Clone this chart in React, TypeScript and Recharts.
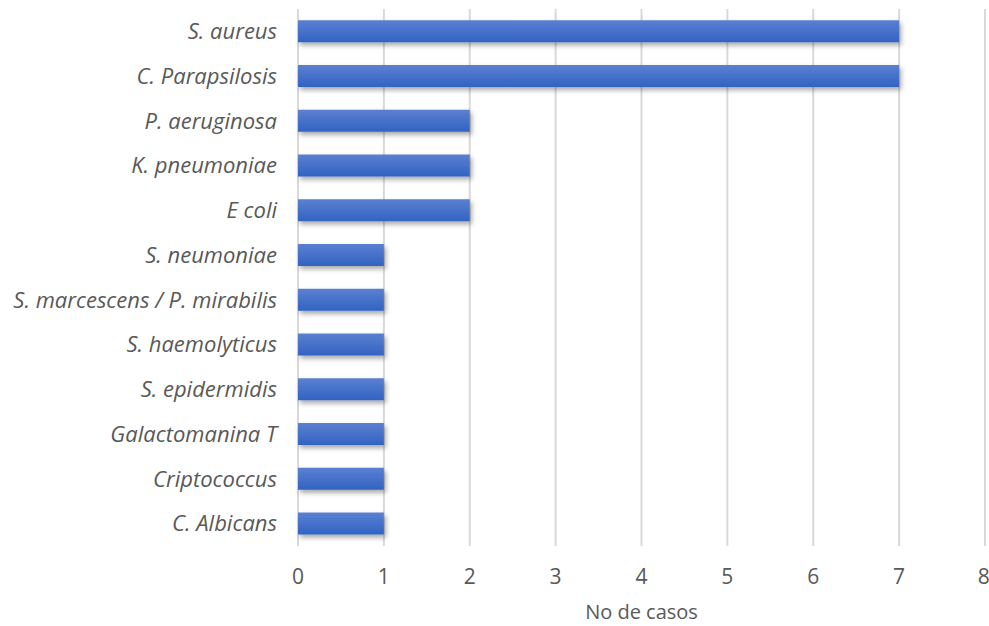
import { Bar, BarChart, CartesianGrid, XAxis, YAxis } from "recharts";

const categories = [
  "S. aureus",
  "C. Parapsilosis",
  "P. aeruginosa",
  "K. pneumoniae",
  "E coli",
  "S. neumoniae",
  "S. marcescens / P. mirabilis",
  "S. haemolyticus",
  "S. epidermidis",
  "Galactomanina T",
  "Criptococcus",
  "C. Albicans",
];
const casos = [7, 7, 2, 2, 2, 1, 1, 1, 1, 1, 1, 1];
const xTicks = [0, 1, 2, 3, 4, 5, 6, 7, 8];

const data = categories.map((name, i) => ({ name, casos: casos[i] }));

const FONT = "'Open Sans', sans-serif";
const TEXT = "#595959";
const GRID = "#d9d9d9";

export default function App() {
  return (
    <div style={{ position: "absolute", left: 0, top: 0, width: 989, height: 626, background: "#fff" }}>
      <BarChart
        width={989}
        height={626}
        data={data}
        layout="vertical"
        barCategoryGap="25%"
        margin={{ top: 9, right: 4, left: 0, bottom: 0 }}
      >
        <defs>
          <linearGradient id="barFill" x1="0" y1="0" x2="0" y2="1">
            <stop offset="0%" stopColor="#5b80d2" />
            <stop offset="100%" stopColor="#3263c2" />
          </linearGradient>
          <filter id="barShadow" x="-5%" y="-20%" width="115%" height="180%">
            <feDropShadow dx="2" dy="3" stdDeviation="2.5" floodColor="#000" floodOpacity="0.35" />
          </filter>
        </defs>
        <CartesianGrid stroke={GRID} strokeWidth={2} horizontal={false} />
        <XAxis
          type="number"
          domain={[0, 8]}
          ticks={xTicks}
          axisLine={false}
          tickLine={false}
          height={80}
          tick={{ fill: TEXT, fontSize: 21, fontFamily: FONT, dy: 15 }}
          label={{ value: "No de casos", position: "insideBottom", offset: 7, fill: TEXT, fontSize: 20, fontFamily: FONT }}
        />
        <YAxis
          type="category"
          dataKey="name"
          width={298}
          axisLine={false}
          tickLine={false}
          interval={0}
          tick={{ fill: TEXT, fontSize: 22, fontFamily: FONT, fontStyle: "italic", dx: -13 }}
        />
        <Bar dataKey="casos" fill="url(#barFill)" filter="url(#barShadow)" isAnimationActive={false} />
      </BarChart>
    </div>
  );
}
